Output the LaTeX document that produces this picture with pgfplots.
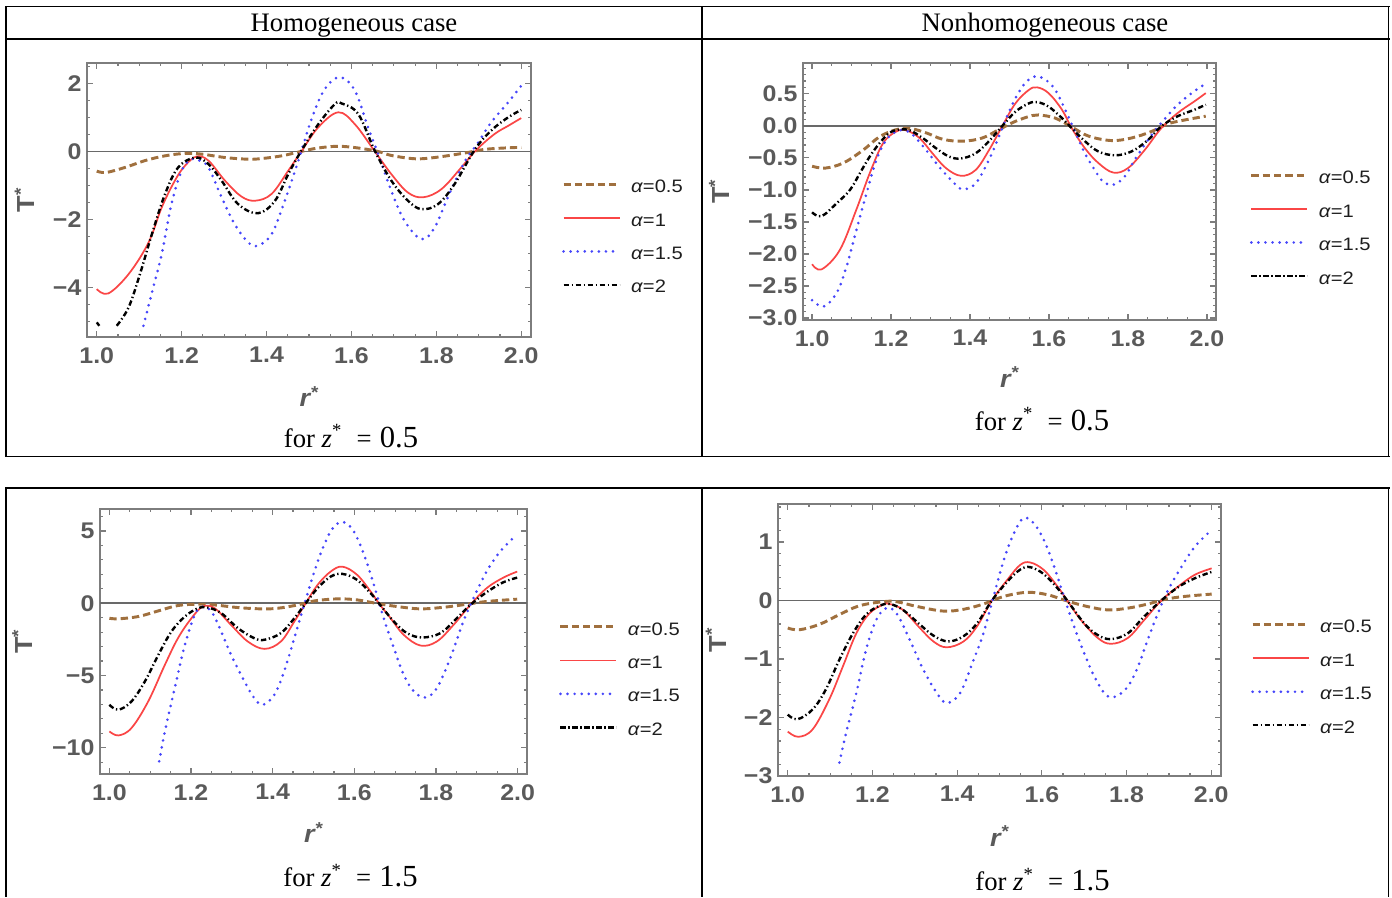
\documentclass[border=0pt]{standalone}
\usepackage{fontspec}
\usepackage{pgfplots}
\pgfplotsset{compat=1.18}
\setmainfont{Liberation Serif}
\newfontfamily\plotsans[FakeStretch=1.1]{Liberation Sans}
\newfontfamily\legsans[FakeStretch=1.12]{Liberation Sans}

\definecolor{framec}{RGB}{125,125,125}
\definecolor{tickc}{RGB}{90,90,90}
\definecolor{zeroc}{RGB}{105,105,105}
\definecolor{brn}{RGB}{160,112,62}
\definecolor{redc}{RGB}{250,70,70}
\definecolor{bluec}{RGB}{70,70,250}
\definecolor{legc}{RGB}{30,30,30}

\newcommand\tickfnt{\fontsize{17}{20}\selectfont\plotsans\bfseries}
\newcommand\labfnt{\fontsize{18.5}{22}\selectfont\plotsans\bfseries}
\newcommand\legfnt{\fontsize{13.5}{15}\selectfont\legsans}
\newcommand\hdrfnt{\fontsize{20}{24}\selectfont}
\newcommand\zlabel[1]{{\fontsize{20}{24}\selectfont for \textit{z}\textsuperscript{*}\hspace{0.55em}=\hspace{0.3em}{\fontsize{23}{26}\selectfont #1}}}

\tikzset{
  s05/.style={brn, line width=2.2pt, dash pattern=on 5.5pt off 3pt},
  s1/.style={redc, line width=1.3pt},
  s15/.style={bluec, line width=2.2pt, line cap=round, dash pattern=on 0pt off 5.3pt},
  s2/.style={black, line width=1.8pt, dash pattern=on 4pt off 2pt on 1pt off 2pt},
}

\pgfplotsset{
  panel/.style={
    scale only axis, anchor=north west, clip=true,
    axis line style={framec, line width=1.2pt},
    tick style={framec, line width=0.9pt},
    major tick length=4.5pt, minor tick length=2.6pt,
    tick align=inside,
    xmin=0.977, xmax=2.023,
    xtick={1,1.2,1.4,1.6,1.8,2},
    xticklabels={1.0,1.2,1.4,1.6,1.8,2.0},
    minor xtick={1,1.05,...,2},
    tick label style={font=\tickfnt, text=tickc, inner sep=0pt},
    xticklabel style={anchor=north, yshift=-7.5pt},
    yticklabel style={anchor=east, xshift=-4pt},
    xlabel={\itshape r\textsuperscript{*}},
    ylabel={T\textsuperscript{*}},
    label style={font=\labfnt, text=tickc},
    xlabel style={anchor=center},
    ylabel style={anchor=center},
    extra y ticks={0}, extra y tick labels={},
    extra y tick style={grid=major, major grid style={zeroc, line width=1.2pt}, major tick length=0pt},
    unbounded coords=jump,
    legend cell align=left,
    legend style={draw=none, fill=none, anchor=west, inner sep=0pt, outer sep=0pt,
      row sep=15.6pt, column sep=7.5pt, font=\legfnt, text=legc,
      nodes={inner sep=0pt, text height=9.5pt, text depth=0pt}},
    legend image code/.code={\draw[##1] (0pt,1.3pt) -- (42pt,1.3pt);},
  },
}

\begin{document}
\begin{tikzpicture}
\useasboundingbox (0pt,0pt) rectangle (1044pt,-672.75pt);

% table rules and captions
\begin{scope}[x=0.75pt,y=-0.75pt]
  \draw[line width=1.3pt] (5,6.5) -- (1389.5,6.5);
  \draw[line width=1.3pt] (5,39) -- (1389.5,39);
  \draw[line width=1.3pt] (5,456.5) -- (1389.5,456.5);
  \draw[line width=1.3pt] (6,6) -- (6,457);
  \draw[line width=1.3pt] (702,6) -- (702,457);
  \draw[line width=1.3pt] (1388.5,6) -- (1388.5,457);
  \draw[line width=1.3pt] (5,488) -- (1389.5,488);
  \draw[line width=1.3pt] (6,488) -- (6,897);
  \draw[line width=1.3pt] (702,488) -- (702,897);
  \draw[line width=1.3pt] (1388.5,488) -- (1388.5,897);
  \node[anchor=base, font=\hdrfnt, inner sep=0pt] at (354,31.5) {Homogeneous case};
  \node[anchor=base, font=\hdrfnt, inner sep=0pt] at (1045,31.5) {Nonhomogeneous case};
  \node[anchor=base, inner sep=0pt] at (351,447) {\zlabel{0.5}};
  \node[anchor=base, inner sep=0pt] at (1042,430) {\zlabel{0.5}};
  \node[anchor=base, inner sep=0pt] at (350.5,886.5) {\zlabel{1.5}};
  \node[anchor=base, inner sep=0pt] at (1042.5,890.5) {\zlabel{1.5}};
\end{scope}

% homogeneous case, z* = 0.5
\begin{axis}[panel, at={(65.25pt,-47.25pt)}, width=333pt, height=205.5pt,
  ymin=-5.46, ymax=2.6, ytick={-4,-2,0,2}, yticklabels={−4,−2,0,2},
  minor ytick={-5,-4.5,...,2.5},
  xlabel style={at={(axis description cs:0.5,-0.217)}},
  ylabel style={at={(axis description cs:-0.140,0.5)}},
  legend style={at={(1.070,0.367)}}]
\addplot[s05, smooth, tension=0.6] coordinates {(1.000,-0.58)(1.022,-0.62)(1.067,-0.47)(1.114,-0.27)(1.161,-0.13)(1.208,-0.06)(1.247,-0.08)(1.302,-0.18)(1.357,-0.23)(1.389,-0.21)(1.436,-0.13)(1.482,0)(1.522,0.10)(1.569,0.15)(1.616,0.10)(1.662,0)(1.694,-0.12)(1.742,-0.21)(1.773,-0.21)(1.820,-0.14)(1.875,-0.03)(1.914,0.06)(1.961,0.10)(2.000,0.12)};
\addlegendentry{\textit{α}=0.5}
\addplot[s1, smooth, tension=0.6] coordinates {(1.000,-4.05)(1.027,-4.18)(1.075,-3.61)(1.122,-2.68)(1.153,-1.65)(1.184,-0.86)(1.208,-0.42)(1.235,-0.15)(1.263,-0.27)(1.302,-0.86)(1.341,-1.33)(1.374,-1.45)(1.412,-1.25)(1.451,-0.57)(1.482,0)(1.522,0.71)(1.569,1.15)(1.608,0.80)(1.655,0)(1.694,-0.67)(1.733,-1.21)(1.769,-1.35)(1.812,-1.11)(1.859,-0.47)(1.894,0.04)(1.937,0.51)(1.969,0.75)(2.000,0.98)};
\addlegendentry{\textit{α}=1}
\addplot[s15, smooth, tension=0.6] coordinates {(1.110,-5.13)(1.129,-4.20)(1.153,-3.02)(1.176,-1.55)(1.200,-0.57)(1.222,-0.23)(1.240,-0.26)(1.263,-0.47)(1.294,-1.35)(1.325,-2.14)(1.357,-2.68)(1.380,-2.77)(1.412,-2.43)(1.443,-1.45)(1.475,-0.27)(1.506,0.95)(1.537,1.83)(1.573,2.18)(1.608,1.79)(1.639,0.71)(1.663,-0.08)(1.694,-1.16)(1.725,-2.04)(1.765,-2.58)(1.796,-2.24)(1.827,-1.35)(1.867,-0.30)(1.898,0.25)(1.929,0.85)(1.969,1.44)(2.000,1.93)};
\addlegendentry{\textit{α}=1.5}
\addplot[s2, smooth, tension=0.6] coordinates {(1.000,-5.03)(1.006,-5.13)(1.020,nan)(1.047,-5.13)(1.075,-4.59)(1.102,-3.60)(1.130,-2.43)(1.161,-1.25)(1.192,-0.47)(1.232,-0.18)(1.263,-0.37)(1.294,-0.86)(1.333,-1.55)(1.380,-1.82)(1.420,-1.45)(1.451,-0.67)(1.482,0.02)(1.522,0.80)(1.561,1.39)(1.577,1.41)(1.616,1.10)(1.655,0.02)(1.694,-0.86)(1.733,-1.45)(1.765,-1.70)(1.804,-1.55)(1.843,-0.96)(1.890,0.04)(1.929,0.61)(1.969,1.00)(2.000,1.22)};
\addlegendentry{\textit{α}=2}
\end{axis}

% nonhomogeneous case, z* = 0.5
\begin{axis}[panel, at={(602.25pt,-47.25pt)}, width=309.75pt, height=192.75pt,
  ymin=-3.03, ymax=0.98, ytick={-3,-2.5,-2,-1.5,-1,-0.5,0,0.5},
  yticklabels={−3.0,−2.5,−2.0,−1.5,−1.0,−0.5,0.0,0.5},
  minor ytick={-3,-2.9,...,0.95},
  xlabel style={at={(axis description cs:0.5,-0.222)}},
  ylabel style={at={(axis description cs:-0.203,0.5)}},
  legend style={at={(1.082,0.360)}}]
\addplot[s05, smooth, tension=0.6] coordinates {(1.000,-0.63)(1.033,-0.66)(1.079,-0.58)(1.129,-0.38)(1.171,-0.17)(1.213,-0.06)(1.247,-0.04)(1.289,-0.11)(1.331,-0.21)(1.381,-0.24)(1.431,-0.19)(1.473,-0.06)(1.515,0.07)(1.557,0.16)(1.574,0.17)(1.616,0.12)(1.658,-0.02)(1.700,-0.16)(1.758,-0.23)(1.809,-0.19)(1.859,-0.09)(1.901,0.03)(1.943,0.09)(1.997,0.15)};
\addlegendentry{\textit{α}=0.5}
\addplot[s1, smooth, tension=0.6] coordinates {(1.000,-2.16)(1.024,-2.24)(1.070,-1.94)(1.112,-1.31)(1.146,-0.74)(1.180,-0.27)(1.213,-0.09)(1.238,-0.07)(1.272,-0.19)(1.305,-0.43)(1.339,-0.66)(1.377,-0.78)(1.414,-0.69)(1.448,-0.38)(1.482,0)(1.515,0.35)(1.549,0.56)(1.570,0.60)(1.599,0.51)(1.633,0.25)(1.658,-0.04)(1.691,-0.35)(1.725,-0.58)(1.763,-0.73)(1.800,-0.66)(1.842,-0.38)(1.884,-0.04)(1.926,0.20)(1.968,0.38)(1.997,0.51)};
\addlegendentry{\textit{α}=1}
\addplot[s15, smooth, tension=0.6] coordinates {(1.000,-2.72)(1.029,-2.82)(1.062,-2.61)(1.087,-2.20)(1.112,-1.63)(1.138,-1.05)(1.163,-0.53)(1.188,-0.22)(1.213,-0.09)(1.234,-0.07)(1.255,-0.14)(1.289,-0.38)(1.322,-0.64)(1.356,-0.87)(1.381,-0.99)(1.414,-0.90)(1.448,-0.53)(1.473,-0.17)(1.494,0.15)(1.515,0.43)(1.540,0.67)(1.565,0.77)(1.591,0.72)(1.616,0.56)(1.641,0.25)(1.666,-0.09)(1.691,-0.43)(1.716,-0.69)(1.737,-0.87)(1.763,-0.92)(1.792,-0.79)(1.817,-0.53)(1.851,-0.22)(1.884,0.04)(1.926,0.33)(1.968,0.54)(1.993,0.64)};
\addlegendentry{\textit{α}=1.5}
\addplot[s2, smooth, tension=0.6] coordinates {(1.000,-1.35)(1.024,-1.41)(1.062,-1.21)(1.096,-1.00)(1.121,-0.74)(1.146,-0.48)(1.171,-0.27)(1.196,-0.11)(1.221,-0.06)(1.247,-0.07)(1.280,-0.19)(1.314,-0.35)(1.347,-0.48)(1.377,-0.51)(1.414,-0.43)(1.448,-0.24)(1.482,0)(1.515,0.22)(1.549,0.35)(1.570,0.37)(1.599,0.30)(1.633,0.12)(1.658,-0.04)(1.691,-0.24)(1.725,-0.40)(1.767,-0.46)(1.809,-0.40)(1.851,-0.22)(1.884,-0.01)(1.926,0.15)(1.968,0.25)(1.997,0.33)};
\addlegendentry{\textit{α}=2}
\end{axis}

% homogeneous case, z* = 1.5
\begin{axis}[panel, at={(75pt,-381.75pt)}, width=320.25pt, height=198.75pt,
  ymin=-11.82, ymax=6.52, ytick={-10,-5,0,5}, yticklabels={−10,−5,0,5},
  minor ytick={-11,-10,...,6},
  xlabel style={at={(axis description cs:0.5,-0.221)}},
  ylabel style={at={(axis description cs:-0.182,0.5)}},
  legend style={at={(1.075,0.359)}}]
\addplot[s05, smooth, tension=0.6] coordinates {(1.000,-1.04)(1.022,-1.08)(1.071,-0.92)(1.120,-0.53)(1.168,-0.16)(1.217,-0.07)(1.258,-0.12)(1.315,-0.30)(1.372,-0.39)(1.412,-0.35)(1.461,-0.12)(1.502,0.16)(1.559,0.30)(1.607,0.23)(1.656,-0.02)(1.705,-0.23)(1.762,-0.39)(1.819,-0.28)(1.876,-0.07)(1.924,0.12)(1.999,0.28)};
\addlegendentry{\textit{α}=0.5}
\addplot[s1, smooth, tension=0.6] coordinates {(1.000,-8.87)(1.022,-9.15)(1.054,-8.64)(1.095,-6.80)(1.136,-4.26)(1.168,-2.42)(1.201,-1.04)(1.229,-0.23)(1.258,-0.35)(1.298,-1.50)(1.339,-2.65)(1.380,-3.16)(1.420,-2.65)(1.453,-1.27)(1.481,0)(1.510,1.27)(1.542,2.19)(1.571,2.53)(1.607,1.96)(1.640,0.81)(1.660,0)(1.689,-1.04)(1.721,-2.19)(1.762,-2.93)(1.802,-2.65)(1.843,-1.50)(1.884,-0.12)(1.924,1.04)(1.965,1.77)(1.999,2.19)};
\addlegendentry{\textit{α}=1}
\addplot[s15, smooth, tension=0.6] coordinates {(1.122,-10.94)(1.136,-8.87)(1.160,-5.88)(1.185,-2.88)(1.209,-0.81)(1.227,-0.25)(1.250,-0.58)(1.274,-1.96)(1.298,-3.57)(1.331,-5.41)(1.355,-6.57)(1.376,-7.03)(1.404,-6.34)(1.428,-4.72)(1.453,-2.42)(1.477,-0.12)(1.502,2.19)(1.526,4.03)(1.550,5.30)(1.575,5.60)(1.599,4.95)(1.624,3.34)(1.648,1.27)(1.672,-1.04)(1.697,-3.11)(1.721,-4.95)(1.746,-6.11)(1.774,-6.52)(1.802,-5.88)(1.835,-3.80)(1.867,-1.27)(1.892,0.35)(1.924,2.19)(1.957,3.57)(1.993,4.61)};
\addlegendentry{\textit{α}=1.5}
\addplot[s2, smooth, tension=0.6] coordinates {(1.000,-7.03)(1.022,-7.37)(1.054,-6.80)(1.087,-5.41)(1.120,-3.57)(1.152,-1.96)(1.185,-0.92)(1.217,-0.35)(1.241,-0.30)(1.274,-0.69)(1.315,-1.73)(1.355,-2.42)(1.380,-2.53)(1.420,-2.07)(1.453,-1.04)(1.481,0)(1.510,1.04)(1.542,1.84)(1.571,2.03)(1.607,1.61)(1.640,0.69)(1.660,0)(1.697,-1.27)(1.729,-2.07)(1.766,-2.37)(1.811,-2.07)(1.851,-1.04)(1.884,-0.12)(1.924,0.76)(1.965,1.45)(1.999,1.77)};
\addlegendentry{\textit{α}=2}
\end{axis}

% nonhomogeneous case, z* = 1.5
\begin{axis}[panel, at={(583.5pt,-378pt)}, width=332.25pt, height=204pt,
  ymin=-3, ymax=1.65, ytick={-3,-2,-1,0,1}, yticklabels={−3,−2,−1,0,1},
  minor ytick={-3,-2.8,...,1.61},
  xlabel style={at={(axis description cs:0.5,-0.221)}},
  ylabel style={at={(axis description cs:-0.140,0.5)}},
  legend style={at={(1.068,0.365)}}]
\addplot[s05, smooth, tension=0.6] coordinates {(1.000,-0.47)(1.027,-0.50)(1.074,-0.41)(1.122,-0.24)(1.169,-0.09)(1.225,-0.02)(1.257,-0.02)(1.304,-0.10)(1.367,-0.18)(1.415,-0.15)(1.462,-0.06)(1.510,0.07)(1.565,0.14)(1.613,0.10)(1.652,0.01)(1.700,-0.09)(1.755,-0.16)(1.803,-0.13)(1.850,-0.06)(1.890,0.02)(1.937,0.07)(2.001,0.11)};
\addlegendentry{\textit{α}=0.5}
\addplot[s1, smooth, tension=0.6] coordinates {(1.000,-2.24)(1.025,-2.33)(1.059,-2.20)(1.098,-1.69)(1.130,-1.13)(1.162,-0.56)(1.193,-0.22)(1.225,-0.07)(1.241,-0.06)(1.272,-0.16)(1.312,-0.47)(1.344,-0.70)(1.375,-0.80)(1.415,-0.70)(1.447,-0.44)(1.482,0)(1.518,0.35)(1.549,0.61)(1.573,0.65)(1.605,0.52)(1.637,0.24)(1.660,0)(1.692,-0.33)(1.732,-0.64)(1.763,-0.74)(1.803,-0.64)(1.842,-0.33)(1.882,0)(1.922,0.24)(1.961,0.44)(2.001,0.55)};
\addlegendentry{\textit{α}=1}
\addplot[s15, smooth, tension=0.6] coordinates {(1.122,-2.77)(1.138,-2.26)(1.162,-1.58)(1.185,-0.84)(1.209,-0.33)(1.233,-0.13)(1.257,-0.22)(1.288,-0.67)(1.320,-1.18)(1.352,-1.58)(1.375,-1.75)(1.407,-1.58)(1.439,-1.01)(1.462,-0.56)(1.486,0.07)(1.510,0.69)(1.534,1.15)(1.557,1.41)(1.581,1.32)(1.605,1.03)(1.629,0.58)(1.652,0.07)(1.676,-0.44)(1.700,-0.90)(1.724,-1.30)(1.751,-1.61)(1.775,-1.64)(1.803,-1.47)(1.827,-1.13)(1.850,-0.67)(1.874,-0.22)(1.898,0.18)(1.930,0.58)(1.961,0.92)(1.997,1.18)};
\addlegendentry{\textit{α}=1.5}
\addplot[s2, smooth, tension=0.6] coordinates {(1.000,-1.95)(1.023,-2.03)(1.059,-1.86)(1.090,-1.52)(1.122,-1.01)(1.154,-0.56)(1.185,-0.24)(1.217,-0.09)(1.241,-0.06)(1.272,-0.16)(1.312,-0.41)(1.344,-0.60)(1.379,-0.70)(1.415,-0.61)(1.447,-0.39)(1.482,0)(1.518,0.32)(1.549,0.53)(1.573,0.57)(1.605,0.45)(1.637,0.21)(1.660,0)(1.700,-0.39)(1.732,-0.59)(1.763,-0.66)(1.803,-0.56)(1.842,-0.27)(1.882,0)(1.922,0.23)(1.961,0.38)(2.001,0.49)};
\addlegendentry{\textit{α}=2}
\end{axis}
\end{tikzpicture}
\end{document}
